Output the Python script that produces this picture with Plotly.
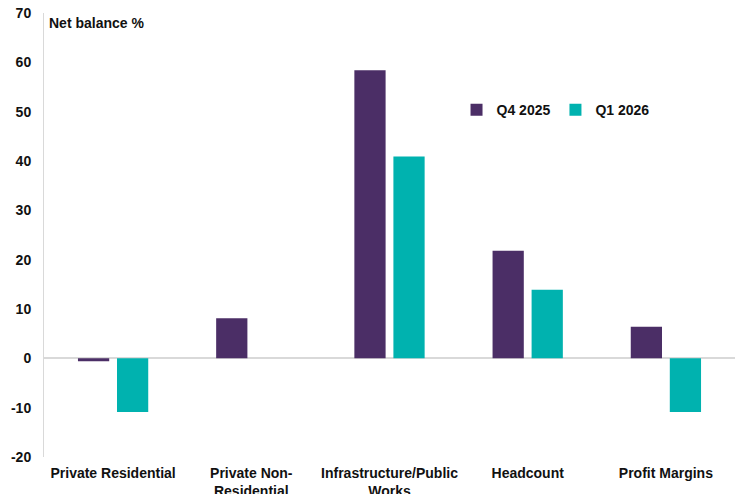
import plotly.graph_objects as go

categories = ["Private Residential", "Private Non-<br>Residential", "Infrastructure/Public<br>Works", "Headcount", "Profit Margins"]
q4_2025 = [-0.6, 8.1, 58.4, 21.8, 6.4]
q1_2026 = [-10.9, 0, 40.9, 13.9, -10.9]
y_ticks = [-20, -10, 0, 10, 20, 30, 40, 50, 60, 70]
y_tick_text = ["-20", "-10", "0", "10", "20", "30", "40", "50", "60", "70"]

PURPLE = "#4B2E66"
TEAL = "#00B2AF"
FONT = "Arial, Liberation Sans, sans-serif"

fig = go.Figure()
fig.add_trace(go.Bar(name="Q4 2025", x=categories, y=q4_2025, marker=dict(color=PURPLE, line=dict(width=0))))
fig.add_trace(go.Bar(name="Q1 2026", x=categories, y=q1_2026, marker=dict(color=TEAL, line=dict(width=0))))

fig.update_layout(
    width=740, height=494,
    margin=dict(l=44, r=5, t=13, b=37, autoexpand=False),
    paper_bgcolor="white", plot_bgcolor="white",
    barmode="group", bargap=0.435, bargroupgap=0.2,
    font=dict(family=FONT, size=14, color="#111111"),
    showlegend=True,
    legend=dict(orientation="h", x=0.597, y=0.781, xanchor="left", yanchor="middle",
                font=dict(family=FONT, size=14, color="#111111", weight="bold"),
                bgcolor="rgba(0,0,0,0)", itemwidth=30, traceorder="normal"),
    xaxis=dict(showgrid=False, showline=False, ticks="", zeroline=False, automargin=False,
               tickfont=dict(family=FONT, size=14, color="#111111", weight="bold"),
               ticklabelstandoff=6),
    yaxis=dict(range=[-20, 70], tickvals=y_ticks, ticktext=y_tick_text, showgrid=False,
               automargin=False,
               showline=True, linecolor="#D9D9D9", linewidth=1,
               zeroline=True, zerolinecolor="#D9D9D9", zerolinewidth=1.5,
               ticks="", ticklabelstandoff=9,
               tickfont=dict(family=FONT, size=14, color="#111111", weight="bold")),
    annotations=[dict(text="<b>Net balance %</b>", xref="paper", yref="paper",
                      x=0.004, y=1.0, xanchor="left", yanchor="top", showarrow=False,
                      font=dict(family=FONT, size=14, color="#111111"))],
)

fig.write_html("out.html")
